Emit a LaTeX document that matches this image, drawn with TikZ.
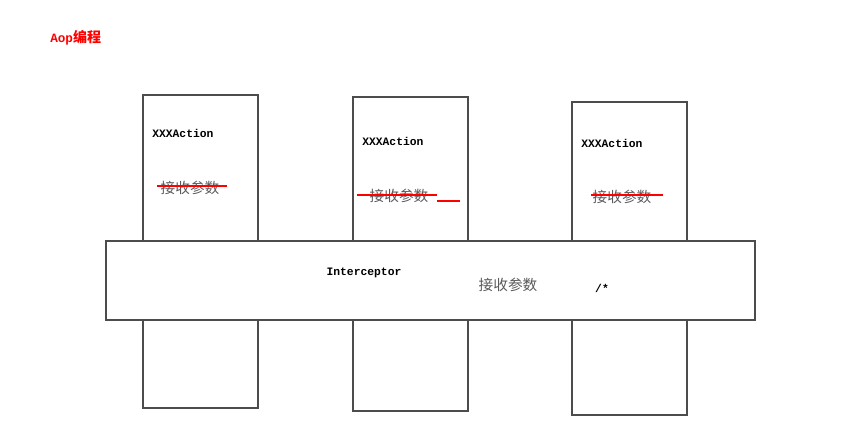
\documentclass[tikz,border=0pt]{standalone}
\usepackage{fontspec}
\setmonofont{Liberation Mono}
\newfontfamily\cjk{Noto Sans CJK SC}
\usetikzlibrary{positioning}

\begin{document}
\begin{tikzpicture}[x=0.75pt,y=-0.75pt,
      every node/.style={inner sep=0pt},
      col/.style={draw=black!70,line width=0.8pt},
      bar/.style={col,fill=white},
      act/.style={font=\ttfamily\bfseries\fontsize{8.5}{10}\selectfont},
      param/.style={font=\cjk\fontsize{11}{13}\selectfont,text=black!65},
      strike/.style={draw=red,line width=1pt}]
    \useasboundingbox (0,0) rectangle (843,448);
    \node[anchor=west,text=red,font=\ttfamily\bfseries\fontsize{9.5}{11}\selectfont] (title) at (50,38)
      {Aop{\cjk\fontsize{10.5}{12}\selectfont 编程}};
    % the three actions
    \foreach \i/\l/\t/\b/\ay/\px/\py in {1/143/95/408/133/190/188,
                                         2/353/97/411/141/399/196,
                                         3/572/102/415/143/622/197}{
      \draw[col] (\l,\t) rectangle (\l+115,\b);
      \node[act,anchor=west] (act\i) at (\l+9,\ay) {XXXAction};
      \node[param] (par\i) at (\px,\py) {接收参数};
    }
    \draw[strike] (157,186) -- (227,186);
    \draw[strike] (357,195) -- (437,195);
    \draw[strike] (437,201) -- (460,201);
    \draw[strike] (591,195) -- (663,195);
    % interceptor across them
    \draw[bar] (106,241) rectangle (755,320);
    \node[act] (icp) at (364,273) {Interceptor};
    \node[param] (ipar) at (508,285) {接收参数};
    \node[act] (all) at (602,288) {/*};
\end{tikzpicture}
\end{document}
